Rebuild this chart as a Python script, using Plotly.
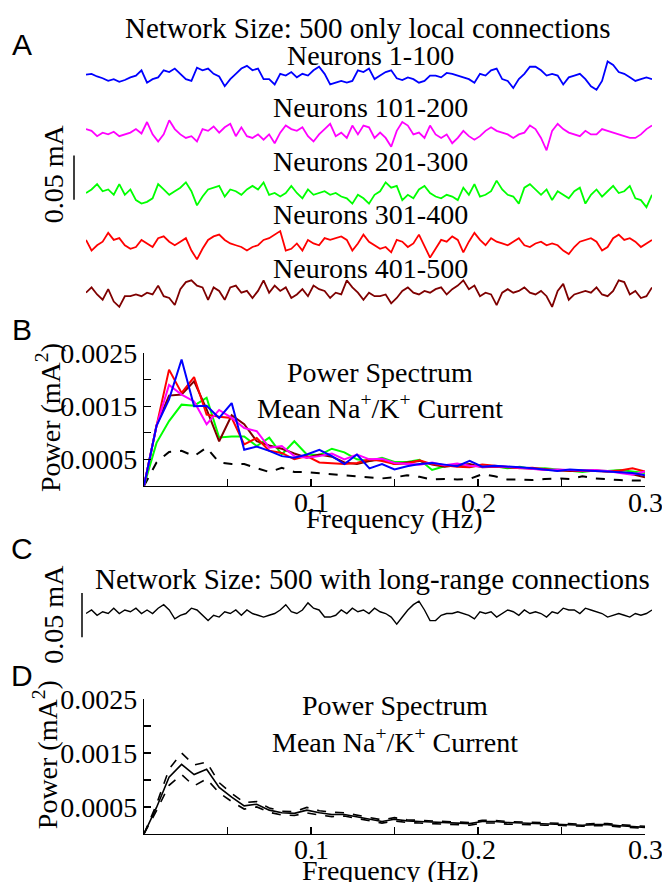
import numpy as np
import plotly.graph_objects as go

# ---------------- data ----------------
# Panel A: mean Na+/K+ current of each neuron group, deviation in microampere
neurons_1_100_uA = [4,5,2,0,-3,-1,-4,-2,1,3,9,-5,-1,1,9,7,11,5,-1,-3,12,9,11,5,2,-9,-1,5,11,14,9,11,-1,-1,-7,5,3,7,1,5,3,9,13,5,-7,-5,-3,-5,-3,9,7,11,-1,3,7,9,0,-2,1,-1,-5,-3,3,3,1,6,5,3,1,-1,-5,5,3,9,11,-1,-3,-11,-1,5,13,13,9,3,5,3,-7,1,3,5,-1,-9,-13,-3,19,15,7,5,1,-3,-1,1,-1]
neurons_101_200_uA = [4,2,-4,0,-2,1,-4,-2,0,4,-1,12,-2,-10,-2,14,4,-2,-6,-4,-10,4,2,7,0,6,10,-4,6,-4,-6,-2,-8,-2,-12,0,8,4,2,6,-4,-10,-2,4,10,-4,0,-6,8,-2,8,6,-6,0,-6,-16,2,12,8,-2,0,-6,8,-2,-6,-2,-12,-6,2,-4,-8,-4,2,6,2,0,-2,-6,-2,0,8,4,-6,-20,2,10,4,0,-2,-4,2,-2,-2,4,2,0,-2,-4,-6,-6,-2,4,8]
neurons_201_300_uA = [0,4,10,2,4,-2,10,-2,4,-8,-12,-10,-6,10,4,-2,2,6,12,2,-14,-4,4,6,8,-4,4,2,-2,4,8,4,12,-2,0,-4,0,8,0,-6,4,-2,0,2,-2,0,-4,-6,-12,-2,-6,-12,-2,2,12,6,8,-8,-2,-6,4,8,0,-4,-6,-2,-4,-8,6,-2,10,-4,-2,2,14,4,-2,-4,-12,6,10,4,-2,4,-8,2,-2,-6,2,6,-12,-2,4,-4,2,8,0,2,8,-6,-8,-16,-2]
neurons_301_400_uA = [4,-8,-2,2,12,4,6,-2,-6,-4,4,0,-4,6,8,2,-2,2,6,-8,-18,-6,4,8,10,4,0,-2,-4,-8,-4,-2,4,6,10,14,-8,-6,0,-8,4,0,-2,6,4,6,8,4,-8,0,10,2,-2,-6,-4,-10,4,2,-4,0,10,-4,-16,-6,4,2,8,4,-10,2,12,4,-2,6,2,0,-2,2,6,-2,-4,0,2,-2,0,-2,-8,-12,-4,2,4,6,2,-8,-4,6,10,4,6,2,-4,0,4]
neurons_401_500_uA = [2,8,0,-6,6,-8,-14,-2,-2,0,-2,2,0,10,-2,-4,-12,6,14,16,10,8,-6,8,4,-6,8,10,2,4,-4,4,16,2,10,4,8,-4,0,6,-2,10,6,4,-4,2,0,16,8,2,-6,2,-2,-2,0,-10,-4,4,8,2,0,4,2,6,8,0,6,10,16,6,10,-2,2,0,-12,2,6,2,4,8,2,0,4,-2,-14,4,12,-6,0,2,4,2,8,0,-2,4,16,14,0,4,-4,-2,8]
# Panel C: network with long-range connections
long_range_uA = [2,6,0,4,2,8,2,6,4,8,2,6,2,8,12,6,-4,0,2,8,6,0,-6,0,-2,4,2,6,0,6,2,0,-2,0,2,6,12,4,2,6,14,8,6,-2,-2,0,6,2,8,4,6,2,8,4,2,-2,-10,-2,6,12,16,6,-6,-6,0,2,2,4,2,0,-4,4,2,4,-2,2,6,4,0,6,2,4,2,-2,4,2,8,6,6,2,8,6,4,2,-2,0,2,0,-2,2,0,2,6]

group_labels = ["Neurons 1-100", "Neurons 101-200", "Neurons 201-300",
                "Neurons 301-400", "Neurons 401-500"]
scale_bar_mA = 0.05

# Panels B and D: power spectra (mA^2)
freq_hz = [0, 0.0075, 0.015, 0.0225, 0.03, 0.0375, 0.045, 0.0525, 0.06, 0.0675,
           0.075, 0.0825, 0.09, 0.0975, 0.105, 0.1125, 0.12, 0.1275, 0.135, 0.1425,
           0.15, 0.1575, 0.165, 0.1725, 0.18, 0.1875, 0.195, 0.2025, 0.21, 0.2175,
           0.225, 0.2325, 0.24, 0.2475, 0.255, 0.2625, 0.27, 0.2775, 0.285, 0.2925, 0.3]
psd_1_100 = [0, 0.00113, 0.00163, 0.00238, 0.0015, 0.00151, 0.00128, 0.00156, 0.00068, 0.00074,
             0.00066, 0.00056, 0.00053, 0.00059, 0.00068, 0.00056, 0.00041, 0.00059, 0.00033, 0.00041,
             0.00031, 0.00037, 0.00041, 0.00043, 0.0004, 0.00037, 0.00047, 0.00036, 0.00038, 0.00037,
             0.00035, 0.00033, 0.0003, 0.00028, 0.00031, 0.00029, 0.00028, 0.00027, 0.00026, 0.00024, 0.0002]
psd_101_200 = [0, 0.00113, 0.0019, 0.00172, 0.00159, 0.00116, 0.00143, 0.00128, 0.00109, 0.00103,
               0.00072, 0.00075, 0.00056, 0.00053, 0.00056, 0.00061, 0.0005, 0.00059, 0.0005, 0.00051,
               0.00043, 0.00041, 0.0004, 0.00044, 0.00039, 0.00042, 0.00038, 0.00036, 0.00037, 0.00036,
               0.00034, 0.00033, 0.0003, 0.00031, 0.0003, 0.00029, 0.0003, 0.00028, 0.00024, 0.00021, 0.00027]
psd_201_300 = [0, 0.00081, 0.00122, 0.00153, 0.00151, 0.00166, 0.00091, 0.00093, 0.00093, 0.00075,
               0.00091, 0.00059, 0.00084, 0.00059, 0.00058, 0.0007, 0.00063, 0.0005, 0.00047, 0.00053,
               0.00045, 0.00045, 0.00049, 0.0003, 0.00037, 0.0004, 0.00036, 0.00039, 0.00037, 0.00033,
               0.00036, 0.00032, 0.00033, 0.00031, 0.00029, 0.00026, 0.00029, 0.00028, 0.0003, 0.00027, 0.00024]
psd_301_400 = [0, 0.00113, 0.00219, 0.00175, 0.00205, 0.00134, 0.0013, 0.00128, 0.00078, 0.0009,
               0.00066, 0.00062, 0.0005, 0.00056, 0.00044, 0.00043, 0.00041, 0.00043, 0.0005, 0.00047,
               0.00041, 0.00042, 0.00048, 0.00041, 0.00038, 0.00036, 0.00035, 0.0004, 0.00038, 0.00035,
               0.00033, 0.00034, 0.00031, 0.00029, 0.0003, 0.00029, 0.00028, 0.00027, 0.00029, 0.00033, 0.00027]
psd_401_500 = [0, 0.00114, 0.0017, 0.00172, 0.00197, 0.00144, 0.00084, 0.00133, 0.00116, 0.00084,
               0.00076, 0.0007, 0.00061, 0.00053, 0.00059, 0.00055, 0.00044, 0.00041, 0.00047, 0.0005,
               0.00041, 0.00044, 0.00047, 0.0004, 0.00036, 0.00039, 0.00041, 0.00035, 0.00036, 0.00035,
               0.00033, 0.00032, 0.00031, 0.00029, 0.00028, 0.00028, 0.00029, 0.00027, 0.00026, 0.00022, 0.00016]
psd_dashed = [0, 0.00044, 0.00064, 0.00066, 0.00056, 0.00072, 0.00044, 0.00041, 0.00041, 0.00034,
              0.00026, 0.00034, 0.00026, 0.00026, 0.00024, 0.00023, 0.0002, 0.00018, 0.00016, 0.00014,
              0.00016, 0.0002, 0.00017, 0.00012, 0.00013, 0.00012, 0.00013, 0.00022, 0.00018, 0.00012,
              0.00012, 0.00011, 0.00013, 0.00014, 0.00013, 0.00018, 0.00014, 0.00012, 0.00011, 0.0001, 0.0001]
psd_lr_mean = [0, 0.00049, 0.00105, 0.00129, 0.0011, 0.0012, 0.00086, 0.00068, 0.00052, 0.00055,
               0.00044, 0.00039, 0.00038, 0.00044, 0.00039, 0.00036, 0.00036, 0.00032, 0.00027, 0.00023,
               0.00027, 0.00024, 0.00023, 0.00022, 0.00021, 0.0002, 0.00019, 0.00023, 0.00023, 0.00021,
               0.0002, 0.00019, 0.00018, 0.00018, 0.00017, 0.00016, 0.00017, 0.00017, 0.00015, 0.00014, 0.00012]
psd_lr_upper = [0, 0.00055, 0.0012, 0.0015, 0.00128, 0.00133, 0.00095, 0.00075, 0.00058, 0.0006,
                0.00048, 0.00042, 0.00041, 0.00049, 0.00043, 0.0004, 0.00039, 0.00035, 0.0003, 0.00026,
                0.0003, 0.00026, 0.00025, 0.00024, 0.00023, 0.00022, 0.00021, 0.00025, 0.00025, 0.00023,
                0.00022, 0.00021, 0.0002, 0.0002, 0.00019, 0.00018, 0.00019, 0.00019, 0.00017, 0.00016, 0.00014]
psd_lr_lower = [0, 0.00043, 0.0009, 0.0011, 0.00089, 0.00102, 0.00076, 0.0006, 0.00046, 0.0005,
                0.0004, 0.00035, 0.00034, 0.00039, 0.00035, 0.00032, 0.00033, 0.00029, 0.00024, 0.0002,
                0.00024, 0.00021, 0.0002, 0.00019, 0.00018, 0.00017, 0.00016, 0.0002, 0.0002, 0.00018,
                0.00017, 0.00017, 0.00016, 0.00016, 0.00015, 0.00014, 0.00015, 0.00015, 0.00013, 0.00012, 0.0001]
freq_tick_labels = [0.1, 0.2, 0.3]

# ---------------- layout helpers ----------------
W, H = 662, 882
def px(x):
    return x / W
def py(y):
    return 1 - y / H

SERIF = "Liberation Serif, Times New Roman, Times, DejaVu Serif, serif"
SANS = "Liberation Sans, Arial, Helvetica, DejaVu Sans, sans-serif"
UA_PER_PX = 50 / 45.0

group_colors = ["#0000ff", "#ff00ff", "#00ff00", "#ff0000", "#7f0000"]
group_center_px = [62, 120, 181, 232, 282]      # vertical stacking in panel A
group_label_px = [41, 94, 149, 203, 258]
a_top, a_bot = 20, 310
c_top, c_bot = 570, 650
c_center_px = 608

def a_val(ypx):
    return (a_bot - ypx) * UA_PER_PX

def c_val(ypx):
    return (c_bot - ypx) * UA_PER_PX

fig = go.Figure()

groups = [neurons_1_100_uA, neurons_101_200_uA, neurons_201_300_uA,
          neurons_301_400_uA, neurons_401_500_uA]
for vals, col, cy in zip(groups, group_colors, group_center_px):
    v = np.array(vals, dtype=float)
    t = np.linspace(0, 1000, len(v))
    fig.add_trace(go.Scatter(x=t, y=v - v.mean() + a_val(cy), mode="lines",
                             line=dict(color=col, width=1.8),
                             xaxis="x", yaxis="y", hoverinfo="skip"))

vc = np.array(long_range_uA, dtype=float)
fig.add_trace(go.Scatter(x=np.linspace(0, 1000, len(vc)), y=vc - vc.mean() + c_val(c_center_px),
                         mode="lines", line=dict(color="black", width=1.4),
                         xaxis="x3", yaxis="y3", hoverinfo="skip"))

b_series = [(psd_dashed, "black", "dash"), (psd_201_300, "#00ff00", "solid"),
            (psd_401_500, "#7f0000", "solid"), (psd_301_400, "#ff0000", "solid"),
            (psd_101_200, "#ff00ff", "solid"), (psd_1_100, "#0000ff", "solid")]
for vals, col, dash in b_series:
    fig.add_trace(go.Scatter(x=freq_hz, y=vals, mode="lines",
                             line=dict(color=col, width=2, dash=dash),
                             xaxis="x2", yaxis="y2", hoverinfo="skip"))

for vals, dash in [(psd_lr_upper, "dash"), (psd_lr_lower, "dash"), (psd_lr_mean, "solid")]:
    fig.add_trace(go.Scatter(x=freq_hz, y=vals, mode="lines",
                             line=dict(color="black", width=1.6, dash=dash),
                             xaxis="x4", yaxis="y4", hoverinfo="skip"))

hidden = dict(visible=False, fixedrange=True)
trace_x_dom = [px(86), px(652)]
spec_x_dom = [px(144), px(645)]

def spec_x(anchor):
    return dict(domain=spec_x_dom, range=[0, 0.3], anchor=anchor,
                showline=True, linecolor="black", linewidth=1.2,
                ticks="inside", ticklen=7, tickcolor="black", tickwidth=1.2,
                tickvals=[0.05, 0.1, 0.15, 0.2, 0.25, 0.3], showticklabels=False,
                showgrid=False, zeroline=False, fixedrange=True)

def spec_y(anchor, top, bot):
    return dict(domain=[py(bot), py(top)], range=[0, 0.0025], anchor=anchor,
                showline=True, linecolor="black", linewidth=1.2,
                ticks="inside", ticklen=7, tickcolor="black", tickwidth=1.2,
                tickvals=[0.0005, 0.001, 0.0015, 0.002, 0.0025],
                ticktext=["0.0005", "", "0.0015", "", "0.0025"],
                tickfont=dict(family=SERIF, size=28, color="black"),
                showgrid=False, zeroline=False, fixedrange=True)

B_TOP, B_BOT = 344, 479
D_TOP, D_BOT = 696, 833

fig.update_layout(
    width=W, height=H, margin=dict(l=0, r=0, t=0, b=0),
    paper_bgcolor="white", plot_bgcolor="white", showlegend=False,
    xaxis=dict(domain=trace_x_dom, range=[0, 1000], anchor="y", **hidden),
    yaxis=dict(domain=[py(a_bot), py(a_top)], range=[0, a_val(a_top)], anchor="x", **hidden),
    xaxis3=dict(domain=trace_x_dom, range=[0, 1000], anchor="y3", **hidden),
    yaxis3=dict(domain=[py(c_bot), py(c_top)], range=[0, c_val(c_top)], anchor="x3", **hidden),
    xaxis2=spec_x("y2"), yaxis2=spec_y("x2", B_TOP, B_BOT),
    xaxis4=spec_x("y4"), yaxis4=spec_y("x4", D_TOP, D_BOT),
)

# scale bars (0.05 mA = 50 uA) drawn in data units
bar_uA = scale_bar_mA * 1000
a_bar_bottom = a_val(group_center_px[2] + 7)
fig.add_shape(type="line", xref="paper", yref="y", x0=px(74), x1=px(74),
              y0=a_bar_bottom, y1=a_bar_bottom + bar_uA, line=dict(color="black", width=1.5))
c_bar_bottom = c_val(633)
fig.add_shape(type="line", xref="paper", yref="y3", x0=px(82), x1=px(82),
              y0=c_bar_bottom, y1=c_bar_bottom + bar_uA, line=dict(color="black", width=1.5))

def ann(text, x, y, size=28, family=SERIF, angle=0):
    fig.add_annotation(text=text, x=px(x), y=py(y), xref="paper", yref="paper",
                       showarrow=False, xanchor="center", yanchor="middle",
                       textangle=angle, font=dict(family=family, size=size, color="black"))

for letter, yy in [("A", 30), ("B", 320), ("C", 543), ("D", 672)]:
    ann(letter, 22, yy, size=30, family=SANS)

ann("Network Size: 500 only local connections", 368, 13, size=29)
for lab, yy in zip(group_labels, group_label_px):
    ann(lab, 370, yy, size=28)
ann(f"{scale_bar_mA:.2f} mA", 53, 162, angle=-90)

ann("Network Size: 500 with long-range connections", 372, 574, size=29)
ann(f"{scale_bar_mA:.2f} mA", 54, 610, angle=-90)

for (xax, ps_y, mean_y, cx, ylab_x, ylab_y, fx, fy, tick_y) in [
        ("x2", 364, 398, 380, 48, 410, 394, 512, 496),
        ("x4", 702, 738, 395, 45, 753, 390, 870, 849)]:
    ann("Power Spectrum", cx, ps_y)
    ann("Mean Na<sup>+</sup>/K<sup>+</sup> Current", cx, mean_y)
    ann("Power (mA<sup>2</sup>)", ylab_x, ylab_y, angle=-90)
    ann("Frequency (Hz)", fx, fy)
    for f in freq_tick_labels:
        fig.add_annotation(text=f"{f:g}", x=f, xref=xax, y=py(tick_y), yref="paper",
                           showarrow=False, xanchor="center", yanchor="middle",
                           font=dict(family=SERIF, size=28, color="black"))

fig.write_html("out.html", config={"displayModeBar": False, "staticPlot": True},
               post_script="document.body.style.margin='0px';")
